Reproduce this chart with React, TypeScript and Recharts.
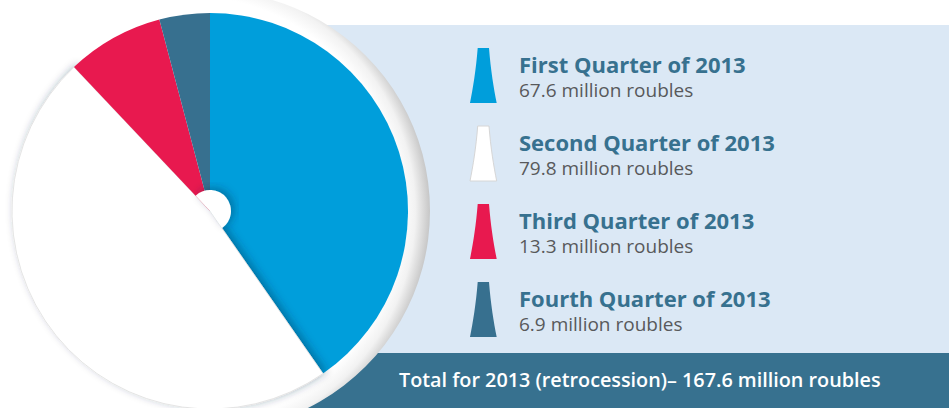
import { PieChart, Pie, Cell, Legend } from 'recharts';

const quarters = ['First Quarter of 2013', 'Second Quarter of 2013', 'Third Quarter of 2013', 'Fourth Quarter of 2013'];
const amounts = [67.6, 79.8, 13.3, 6.9];
const sliceColors = ['#009edb', '#ffffff', '#e8194f', '#37708f'];
const totalLabel = 'Total for 2013 (retrocession)– 167.6 million roubles';

const FONT = '"Open Sans", "Noto Sans", sans-serif';

const pieData = quarters.map((name, i) => ({ name, value: amounts[i] }));
const total = amounts.reduce((s, v) => s + v, 0);

// angles (clockwise from 12 o'clock) of the white slice, used for the little notch at the centre
const whiteStart = (360 * amounts[0]) / total;
const whiteEnd = (360 * (amounts[0] + amounts[1])) / total;

const iconPath = 'M7.7,0 L19,0 C20.7,22 23.7,40 26.7,55 L0,55 C3,40 6,22 7.7,0 Z';

const renderLegend = () => (
  <svg width={487} height={300} style={{ display: 'block' }}>
    {quarters.map((q, i) => (
      <g key={q} transform={`translate(8, ${8 + i * 78})`}>
        <path
          d={iconPath}
          fill={sliceColors[i]}
          stroke={sliceColors[i] === '#ffffff' ? '#d6d6d6' : 'none'}
          strokeWidth={1}
        />
        <text x={49} y={25} fontFamily={FONT} fontWeight={700} fontSize={22} fill="#37718f">
          {q}
        </text>
        <text x={49} y={49} fontFamily={FONT} fontSize={19} fill="#58595b">
          {`${amounts[i]} million roubles`}
        </text>
      </g>
    ))}
  </svg>
);

export default function App() {
  return (
    <div style={{ position: 'absolute', left: 0, top: 0, width: 949, height: 408, overflow: 'hidden', background: '#fff' }}>
      {/* background panel and total bar */}
      <svg width={949} height={408} style={{ position: 'absolute', left: 0, top: 0 }}>
        <rect x={326} y={25} width={623} height={328} fill="#dbe8f5" />
        <rect x={300} y={353} width={649} height={55} fill="#37718f" />
        <text x={399} y={387} fontFamily={FONT} fontWeight={600} fontSize={19.8} fill="#ffffff">
          {totalLabel}
        </text>
      </svg>

      <div style={{ position: 'absolute', left: 0, top: 0 }}>
        <PieChart width={949} height={408} margin={{ top: 0, right: 0, bottom: 0, left: 0 }}>
          <defs>
            <radialGradient id="ringFill" gradientUnits="userSpaceOnUse" cx={185} cy={211} r={245}>
              <stop offset="0.88" stopColor="#ffffff" />
              <stop offset="0.94" stopColor="#f2f2f2" />
              <stop offset="1" stopColor="#c6c6c6" />
            </radialGradient>
            <filter id="sliceShadow" x="-20%" y="-20%" width="140%" height="140%">
              <feDropShadow dx={3} dy={-2} stdDeviation={4} floodColor="#00334d" floodOpacity={0.4} />
            </filter>
          </defs>

          {/* white ring round the pie */}
          <Pie
            data={[{ name: 'ring', value: 1 }]}
            dataKey="value"
            cx={210}
            cy={211}
            outerRadius={220}
            startAngle={90}
            endAngle={-270}
            stroke="none"
            legendType="none"
            isAnimationActive={false}
          >
            <Cell fill="url(#ringFill)" />
          </Pie>

          <Pie
            data={pieData}
            dataKey="value"
            nameKey="name"
            cx={210}
            cy={211}
            outerRadius={198}
            startAngle={90}
            endAngle={-270}
            stroke="none"
            isAnimationActive={false}
          >
            {pieData.map((entry, index) => (
              <Cell
                key={`cell-${index}`}
                fill={sliceColors[index]}
                filter={index === 1 ? 'url(#sliceShadow)' : undefined}
                stroke={index === 1 ? '#e0e0e0' : 'none'}
                strokeWidth={index === 1 ? 0.8 : 0}
              />
            ))}
          </Pie>

          {/* notch of the white slice over the centre */}
          <Pie
            data={[{ name: 'notch', value: 1 }]}
            dataKey="value"
            cx={210}
            cy={211}
            outerRadius={21}
            startAngle={450 - whiteEnd}
            endAngle={90 - whiteStart}
            stroke="none"
            legendType="none"
            isAnimationActive={false}
          >
            <Cell fill="#ffffff" filter="url(#sliceShadow)" />
          </Pie>

          <Legend
            layout="vertical"
            align="right"
            verticalAlign="top"
            content={renderLegend}
            wrapperStyle={{ left: 462, top: 40, width: 487, height: 300 }}
          />
        </PieChart>
      </div>
    </div>
  );
}
